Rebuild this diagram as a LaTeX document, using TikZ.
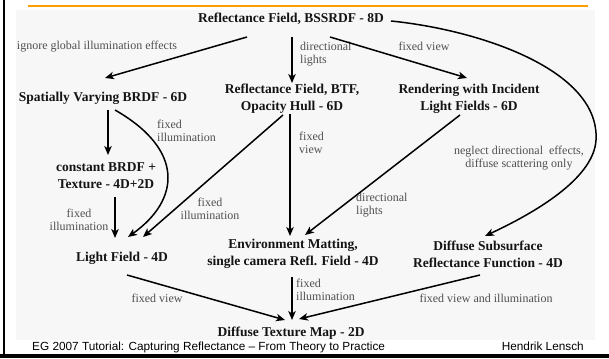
\documentclass[tikz,border=0pt]{standalone}
\usepackage{fontspec}
\setmainfont{Liberation Serif}
\newfontfamily\footfont{Liberation Sans}
\usetikzlibrary{arrows.meta,calc}
\definecolor{lineorange}{RGB}{255,160,0}
\definecolor{labelgray}{RGB}{80,80,80}
\tikzset{
  box/.style={inner sep=0pt, align=center, text=black!92,
    font=\fontsize{13.5}{17}\selectfont\bfseries},
  lbl/.style={inner sep=0pt, text=labelgray, font=\fontsize{12}{13}\selectfont},
  arr/.style={line width=1.5pt, -{Stealth[length=9pt,width=7.5pt,inset=2.5pt]}},
  foot/.style={inner sep=0pt, text=black, font=\footfont\fontsize{11.8}{13}\selectfont}
}
\begin{document}
\begin{tikzpicture}[x=1pt,y=-1pt]
\useasboundingbox (0,0) rectangle (609,358);
\fill[white] (0,0) rectangle (609,358);
\fill[black!3] (16,10) rectangle (595,340);
\draw[lineorange, line width=1.4pt] (28,6) -- (588,6);
\fill[black] (2.5,0) rectangle (5.3,358);
\fill[black] (0,354) rectangle (609,358);

% nodes
\node[box] (top) at (291,19) {Reflectance Field, BSSRDF - 8D};
\node[box] (svb) at (103,98) {Spatially Varying BRDF - 6D};
\node[box] (btf) at (292,99) {Reflectance Field, BTF,\\Opacity Hull - 6D};
\node[box] (rilf) at (469,99) {Rendering with Incident\\Light Fields - 6D};
\node[box] (cbt) at (106,176) {constant BRDF +\\Texture - 4D+2D};
\node[box] (lf) at (122,258) {Light Field - 4D};
\node[box] (env) at (293,254) {Environment Matting,\\single camera Refl. Field - 4D};
\node[box] (dsrf) at (488,254) {Diffuse Subsurface\\Reflectance Function - 4D};
\node[box] (dtm) at (291,333) {Diffuse Texture Map - 2D};

% labels
\node[lbl] (l1) at (97,47) {ignore global illumination effects};
\node[lbl, align=left, anchor=west] (l2) at (300,54) {directional\\lights};
\node[lbl] (l3) at (424,46) {fixed view};
\node[lbl, align=left, anchor=west] (l4) at (157,131) {fixed\\illumination};
\node[lbl, align=center] (l5) at (79,220) {fixed\\illumination};
\node[lbl, align=center] (l6) at (210,209) {fixed\\illumination};
\node[lbl, align=left, anchor=west] (l7) at (299,143) {fixed\\view};
\node[lbl, align=left, anchor=west] (l8) at (356,205) {directional\\lights};
\node[lbl, align=center] (l9) at (519,158) {neglect directional\ \ effects,\\diffuse scattering only};
\node[lbl] (l10) at (157,298) {fixed view};
\node[lbl, align=left, anchor=west] (l11) at (296,290) {fixed\\illumination};
\node[lbl] (l12) at (486,298) {fixed view and illumination};

% footer
\node[foot, anchor=base west] (f1) at (32,350) {EG 2007 Tutorial: Capturing Reflectance – From Theory to Practice};
\node[foot, anchor=base east] (f2) at (584,350) {Hendrik Lensch};

% connectors
\draw[arr] ($(top)+(-44,18)$) -- ($(svb)+(2,-20)$);
\draw[arr] ($(top)+(1,18)$) -- ($(btf)+(0,-16)$);
\draw[arr] ($(top)+(39,18)$) -- ($(rilf)+(-2,-21)$);
\draw[arr] ($(top)+(100,2)$) .. controls (480,30) and (600,70) .. (596,140)
   .. controls (594,175) and (545,208) .. ($(dsrf)+(-3,-18)$);
\draw[arr] ($(svb)+(5,12)$) -- ($(cbt)+(2,-21)$);
\draw[arr] ($(svb)+(12,12)$) .. controls (185,150) and (180,200) .. ($(lf)+(6,-21)$);
\draw[arr] ($(cbt)+(9,21)$) -- ($(lf)+(-7,-20)$);
\draw[arr] ($(btf)+(-9,16)$) -- ($(lf)+(21,-21)$);
\draw[arr] ($(btf)+(-2,15)$) -- ($(env)+(-3,-18)$);
\draw[arr] ($(rilf)+(-9,16)$) -- ($(env)+(12,-19)$);
\draw[arr] ($(lf)+(5,17)$) -- ($(dtm)+(-6,-13)$);
\draw[arr] ($(env)+(-1,23)$) -- ($(dtm)+(1,-13)$);
\draw[arr] ($(dsrf)+(-8,21)$) -- ($(dtm)+(8,-14)$);
\end{tikzpicture}
\end{document}
